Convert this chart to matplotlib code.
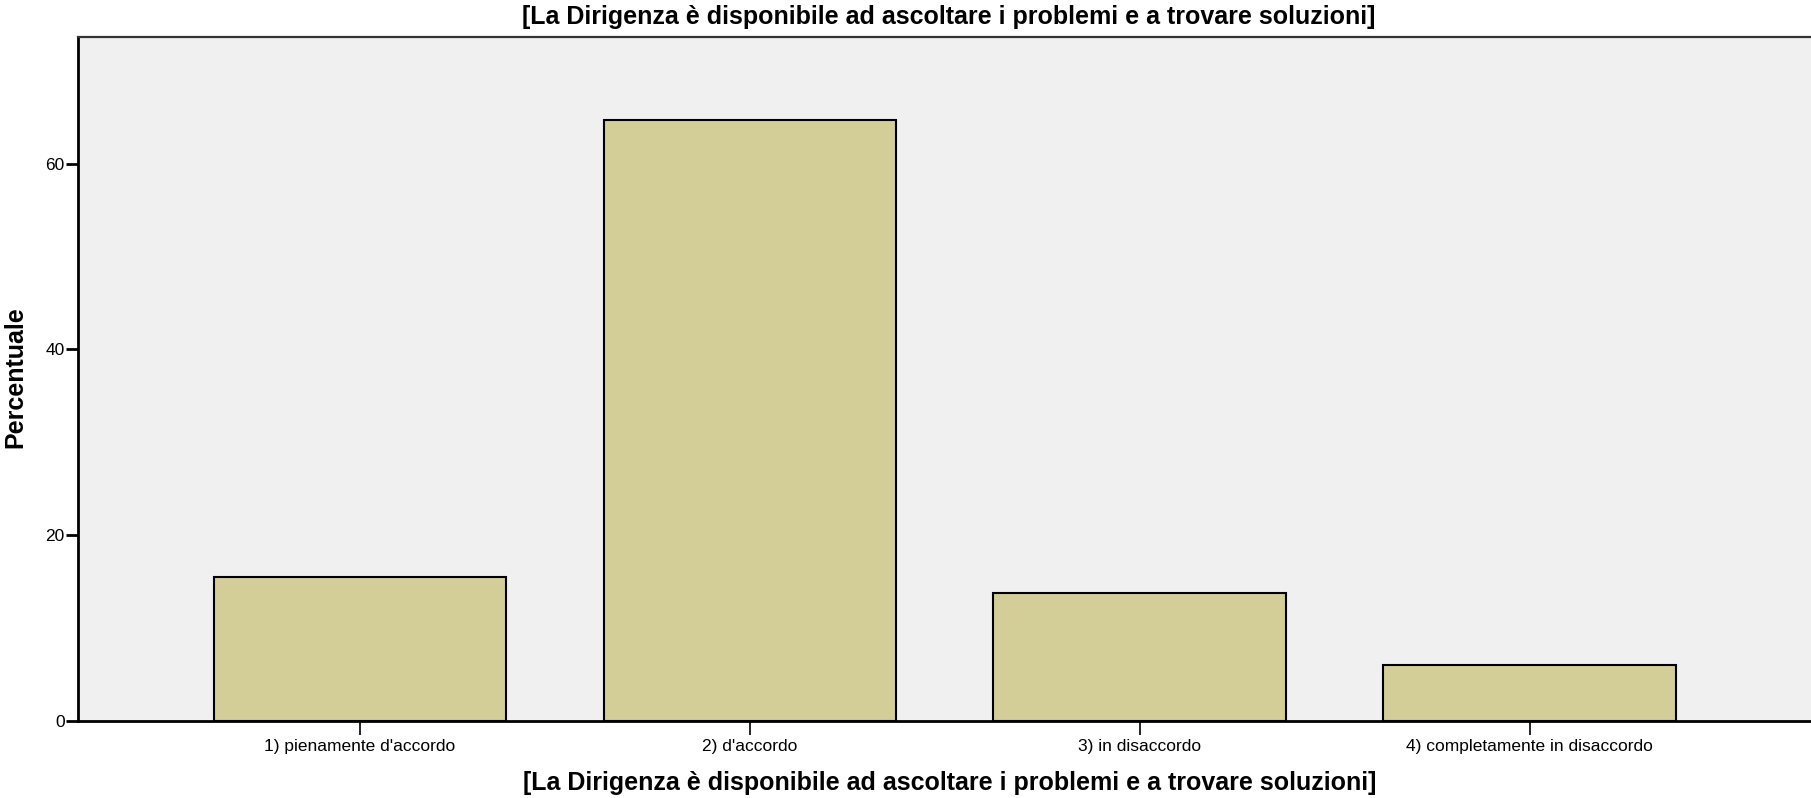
import matplotlib
matplotlib.use("Agg")
import matplotlib.pyplot as plt

categories = ["1) pienamente d'accordo", "2) d'accordo", "3) in disaccordo",
              "4) completamente in disaccordo"]
percent = [15.5, 64.7, 13.8, 6.0]
yticks = [0, 20, 40, 60]
title = "[La Dirigenza è disponibile ad ascoltare i problemi e a trovare soluzioni]"

plt.rcParams["font.family"] = ["Liberation Sans", "DejaVu Sans"]

fig = plt.figure(figsize=(18.11, 7.98), dpi=100)
ax = fig.add_axes([0.0433, 0.0969, 0.9567, 0.8571])
ax.set_facecolor("#f0f0f0")

x = list(range(len(categories)))
ax.bar(x, percent, width=0.75, color="#d3ce97", edgecolor="black", linewidth=1.5, zorder=3)

ax.set_xlim(-0.722, 3.722)
ax.set_ylim(0, 73.67)
ax.set_yticks(yticks)
ax.set_xticks(x)
ax.set_xticklabels(categories, fontsize=12.5)
ax.tick_params(axis="y", direction="out", length=9, width=2, pad=1, labelsize=12.5)
ax.tick_params(axis="x", direction="out", length=10, width=1.2, pad=3)

for side in ["left", "bottom"]:
    ax.spines[side].set_linewidth(2)
ax.spines["top"].set_linewidth(1.6)
ax.spines["top"].set_color("#333333")
ax.spines["right"].set_visible(False)

ax.set_xlabel(title, fontsize=18, fontweight="bold")
ax.xaxis.set_label_coords(0.503, -0.073)
ax.set_ylabel("Percentuale", fontsize=18, fontweight="bold")
ax.yaxis.set_label_coords(-0.0295, 0.503)
fig.text(0.524, 0.979, title, ha="center", va="center", fontsize=18, fontweight="bold")

fig.savefig("out.png", dpi=100)
